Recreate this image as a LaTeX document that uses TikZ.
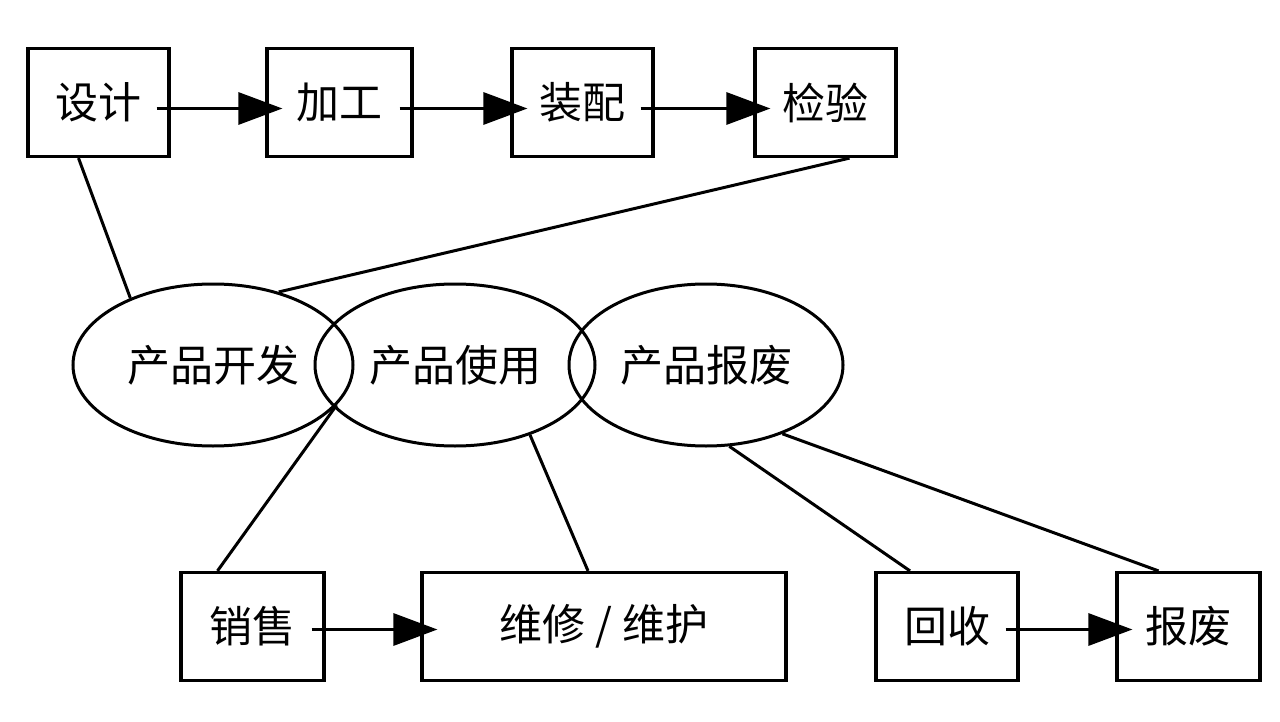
\documentclass[tikz,border=0pt]{standalone}
\usepackage{fontspec}
\setmainfont{Noto Sans CJK SC}
\usetikzlibrary{shapes.geometric,arrows.meta,calc}
\begin{document}
\begin{tikzpicture}[x=1pt,y=-1pt,
  boxnode/.style={draw=black,line width=3.2pt,rectangle,inner sep=0pt,
    minimum height=108pt,font=\fontsize{43pt}{50pt}\selectfont},
  ellnode/.style={draw=black,line width=3pt,ellipse,inner sep=0pt,
    minimum width=280pt,minimum height=162pt,font=\fontsize{43pt}{50pt}\selectfont},
  link/.style={draw=black,line width=3pt},
  flow/.style={draw=black,line width=3.2pt,-{Triangle[length=44pt,width=32pt]},
    shorten <=-14pt,shorten >=-17pt}]
\useasboundingbox[fill=white] (0,0) rectangle (1280,722);
% top row
\node[boxnode,minimum width=141pt] (sheji) at (98.5,102.5) {设计};
\node[boxnode,minimum width=145pt] (jiagong) at (339.5,102.5) {加工};
\node[boxnode,minimum width=141pt] (zhuangpei) at (582.5,102.5) {装配};
\node[boxnode,minimum width=141pt] (jianyan) at (825.5,102.5) {检验};
% ellipses
\node[ellnode] (kaifa) at (213,365) {产品开发};
\node[ellnode] (shiyong) at (455,365) {产品使用};
\node[ellnode,minimum width=274pt] (baofeiE) at (706,365) {产品报废};
% bottom row
\node[boxnode,minimum width=143pt] (xiaoshou) at (252.5,626.5) {销售};
\node[boxnode,minimum width=364pt] (weixiu) at (604,626.5) {维修 / 维护};
\node[boxnode,minimum width=142pt] (huishou) at (947,626.5) {回收};
\node[boxnode,minimum width=143pt] (baofei) at (1188.5,626.5) {报废};
% arrows
\draw[flow] ([yshift=-6pt]sheji.east) -- ([yshift=-6pt]jiagong.west);
\draw[flow] ([yshift=-6pt]jiagong.east) -- ([yshift=-6pt]zhuangpei.west);
\draw[flow] ([yshift=-6pt]zhuangpei.east) -- ([yshift=-6pt]jianyan.west);
\draw[flow] ([yshift=-3pt]xiaoshou.east) -- ([yshift=-3pt]weixiu.west);
\draw[flow] ([yshift=-3pt]huishou.east) -- ([yshift=-3pt]baofei.west);
% links
\draw[link] ($(sheji.south)+(-20,0)$) -- (kaifa.141.7);
\draw[link] ($(jianyan.south)+(24,0)$) -- (kaifa.48.2);
\draw[link] ($(xiaoshou.north)+(-35,0)$) -- (kaifa.-18.6);
\draw[link] ($(weixiu.north)+(-16,0)$) -- (shiyong.-43);
\draw[link] ($(huishou.north)+(-37,0)$) -- (baofeiE.-74.6);
\draw[link] ($(baofei.north)+(-30,0)$) -- (baofeiE.-42.6);
\end{tikzpicture}
\end{document}
